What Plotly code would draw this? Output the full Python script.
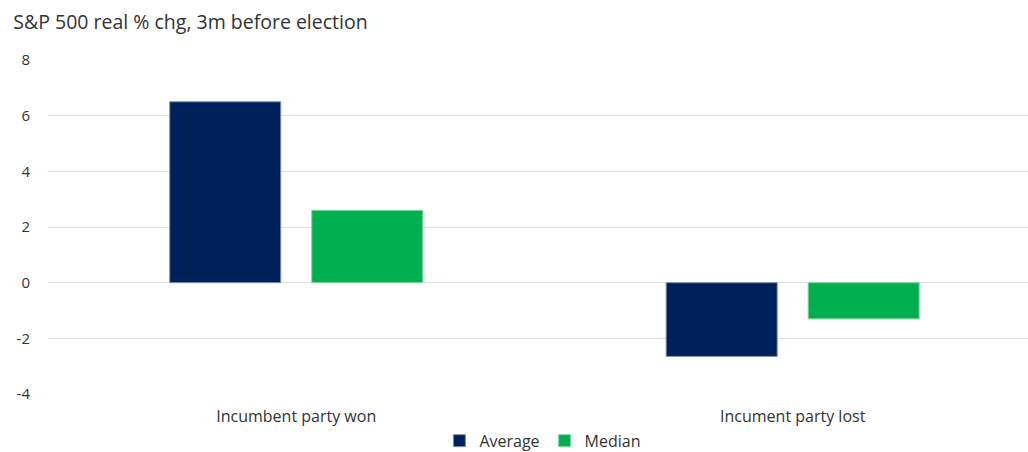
import plotly.graph_objects as go

categories = ["Incumbent party won", "Incument party lost"]
average = [6.5, -2.65]
median = [2.6, -1.3]
y_ticks = [-4, -2, 0, 2, 4, 6, 8]
y_tick_labels = ["-4", "-2", "0", "2", "4", "6", "8"]

font_family = "Open Sans, Noto Sans, sans-serif"

fig = go.Figure()
fig.add_trace(go.Bar(
    name="Average", x=categories, y=average,
    marker=dict(color="#00205B", line=dict(color="#8090B0", width=1)),
))
fig.add_trace(go.Bar(
    name="Median", x=categories, y=median,
    marker=dict(color="#00B050", line=dict(color="#80D8A0", width=1)),
))

fig.update_layout(
    width=1028, height=452,
    margin=dict(l=48, r=0, t=60, b=58, autoexpand=False),
    paper_bgcolor="white", plot_bgcolor="white",
    barmode="group", bargap=0.428, bargroupgap=0.218,
    title=dict(text="S&P 500 real % chg, 3m before election",
               x=0.013, xanchor="left", y=0.95, yanchor="middle",
               font=dict(family=font_family, size=19.5, color="#333333")),
    font=dict(family=font_family, size=15, color="#333333"),
    showlegend=True,
    legend=dict(orientation="h", x=0.505, xanchor="center", y=-0.14, yanchor="middle",
                font=dict(family=font_family, size=16, color="#333333"),
                itemwidth=30, traceorder="normal"),
    xaxis=dict(range=[-0.5, 1.474], showgrid=False, showline=False,
               ticks="outside", ticklen=8, tickcolor="rgba(0,0,0,0)",
               tickfont=dict(size=16, color="#333333")),
    yaxis=dict(range=[-4, 8], tickvals=y_ticks, ticktext=y_tick_labels,
               showgrid=True, gridcolor="#E0E0E0",
               gridwidth=1, zeroline=True, zerolinecolor="#E0E0E0", zerolinewidth=1,
               showline=False, ticks="outside", ticklen=14, tickcolor="rgba(0,0,0,0)",
               tickfont=dict(size=15, color="#333333")),
)

fig.write_html("out.html")
